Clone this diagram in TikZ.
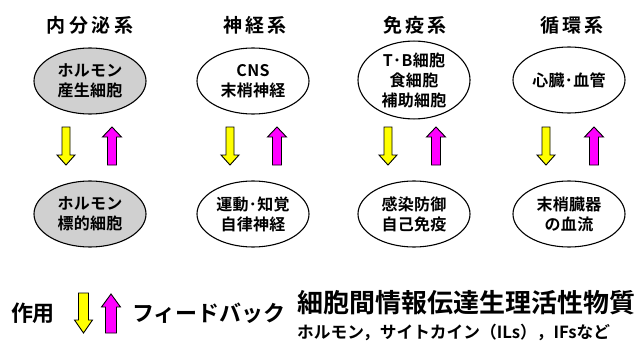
\documentclass[tikz,border=0pt]{standalone}
\usepackage{fontspec}
\setmainfont{Noto Sans CJK JP}[BoldFont={Noto Sans CJK JP Bold}]
\usetikzlibrary{shapes.geometric}
\definecolor{ellgray}{RGB}{208,208,208}
\definecolor{myyellow}{RGB}{255,255,0}
\definecolor{mymagenta}{RGB}{255,0,255}
% #1 name, #2 x, #3 tail y, #4 head base y, #5 tip y, #6 colour, #7 half shaft, #8 half head
\newcommand\blockarrow[8]{%
  \coordinate (#1) at (#2,#3);
  \filldraw[blockarr, fill=#6] (#2-#7,#3) -- (#2+#7,#3) -- (#2+#7,#4) -- (#2+#8,#4)
    -- (#2,#5) -- (#2-#8,#4) -- (#2-#7,#4) -- cycle;}
\begin{document}
\begin{tikzpicture}[x=1pt,y=-1pt,
  every node/.style={inner sep=0pt},
  title/.style={font=\fontsize{19}{20}\selectfont\bfseries\addfontfeature{LetterSpace=18}},
  sys/.style={draw=black, line width=1.1pt, ellipse, minimum width=112pt, minimum height=66pt,
    align=center, font=\fontsize{16}{20}\selectfont\bfseries\addfontfeature{LetterSpace=2}},
  hormone/.style={fill=ellgray},
  blockarr/.style={draw=black, line width=0.9pt, line join=miter},
  legend/.style={font=\fontsize{22}{22}\selectfont\bfseries},
]
\useasboundingbox (0,0) rectangle (643,345);

% titles
\node[title] (t1) at (90,25) {内分泌系};
\node[title] (t2) at (255,25) {神経系};
\node[title] (t3) at (415,25) {免疫系};
\node[title] (t4) at (572,25) {循環系};

% top ellipses
\node[sys, hormone] (a1) at (90,81) {ホルモン\\産生細胞};
\node[sys] (a2) at (253,81) {CNS\\末梢神経};
\node[sys] (a3) at (414,80) {T･B細胞\\食細胞\\補助細胞};
\node[sys] (a4) at (569,80) {心臓･血管};

% bottom ellipses
\node[sys, hormone] (b1) at (90,214) {ホルモン\\標的細胞};
\node[sys] (b2) at (253,214) {運動･知覚\\自律神経};
\node[sys] (b3) at (414,214) {感染防御\\自己免疫};
\node[sys] (b4) at (569,214) {末梢臓器\\の血流};

% arrows between rows
\blockarrow{d1}{66}{127}{155}{165}{myyellow}{4}{9}
\blockarrow{u1}{112}{165}{137}{127}{mymagenta}{4.5}{9.5}
\blockarrow{d2}{230}{127}{155}{165}{myyellow}{4}{9}
\blockarrow{u2}{277}{165}{137}{127}{mymagenta}{4.5}{9.5}
\blockarrow{d3}{388}{127}{155}{165}{myyellow}{4}{9}
\blockarrow{u3}{436}{165}{137}{127}{mymagenta}{4.5}{9.5}
\blockarrow{d4}{546}{127}{155}{165}{myyellow}{4}{9}
\blockarrow{u4}{594}{165}{137}{127}{mymagenta}{4.5}{9.5}

% legend
\node[legend] (saku) at (33,313) {作用};
\blockarrow{ld}{83.5}{293}{320}{333}{myyellow}{5}{9}
\blockarrow{lu}{111}{333}{307}{294}{mymagenta}{5.5}{9.5}
\node[legend, anchor=west] (fb) at (132,313) {フィードバック};
\node[anchor=west, font=\fontsize{26}{28}\selectfont\bfseries] (bs) at (297,303) {細胞間情報伝達生理活性物質};
\node[anchor=west, font=\fontsize{16.7}{18}\selectfont\bfseries] (rei) at (297,332) {ホルモン，サイトカイン（ILs），IFsなど};
\end{tikzpicture}
\end{document}
